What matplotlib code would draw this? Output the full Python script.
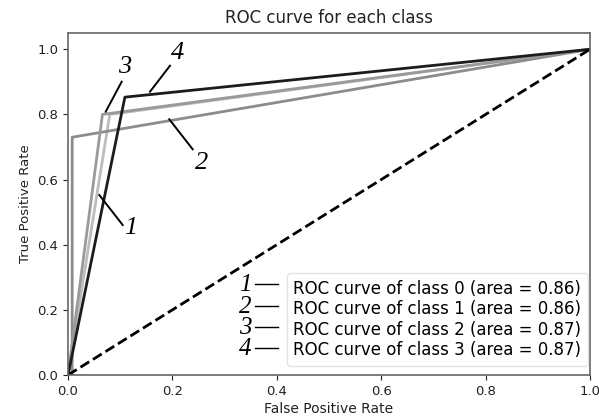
import matplotlib
matplotlib.use("Agg")
import matplotlib.pyplot as plt
from matplotlib.lines import Line2D

# data
classes = [0, 1, 2, 3]
areas = [0.86, 0.86, 0.87, 0.87]
fpr_c0 = [0.0, 0.080, 1.0]
tpr_c0 = [0.0, 0.80, 1.0]
fpr_c1 = [0.0, 0.008, 0.008, 1.0]
tpr_c1 = [0.0, 0.0, 0.73, 1.0]
fpr_c2 = [0.0, 0.066, 1.0]
tpr_c2 = [0.0, 0.80, 1.0]
fpr_c3 = [0.0, 0.109, 1.0]
tpr_c3 = [0.0, 0.853, 1.0]
fprs = [fpr_c0, fpr_c1, fpr_c2, fpr_c3]
tprs = [tpr_c0, tpr_c1, tpr_c2, tpr_c3]
colors = ["#bdbdbd", "#8c8c8c", "#9a9a9a", "#1c1c1c"]
numbers = ["1", "2", "3", "4"]

fig = plt.figure(figsize=(5.99, 4.16), dpi=100)
ax = fig.add_axes([68 / 599, 41 / 416, 522 / 599, 342 / 416])

for f, t, c, cls, a in zip(fprs, tprs, colors, classes, areas):
    ax.plot(f, t, color=c, lw=2, label=f"ROC curve of class {cls} (area = {a:.2f})")
ax.plot([0, 1], [0, 1], "k--", lw=2)

ax.set_xlim(0, 1.0)
ax.set_ylim(0, 1.05)
ax.set_xticks([0, 0.2, 0.4, 0.6, 0.8, 1.0])
ax.set_yticks([0, 0.2, 0.4, 0.6, 0.8, 1.0])
ax.tick_params(labelsize=9.5, colors="#222222")
ax.set_xlabel("False Positive Rate", fontsize=10, color="#222222", labelpad=3)
ax.set_ylabel("True Positive Rate", fontsize=9.5, color="#222222")
ax.set_title("ROC curve for each class", fontsize=12, color="#222222", pad=7)
for s in ax.spines.values():
    s.set_color("#666666")
    s.set_linewidth(1.2)


def px2ax(px, py):
    return (px - 68) / 522.0, (375 - py) / 342.0


leg = ax.legend(loc="lower right", fontsize=12, handlelength=0, handletextpad=0,
                frameon=True, borderaxespad=0, labelspacing=0.15,
                bbox_to_anchor=px2ax(588, 366), fancybox=True)
for h in leg.legend_handles:
    h.set_visible(False)
leg.get_frame().set_edgecolor("#dddddd")

# curve labels with leader lines (pixel positions in the axes)
serif = ["Liberation Serif", "DejaVu Serif"]
annos = [
    ("1", (130.7, 228.3), (99.3, 195), (122.7, 225)),
    ("2", (201.7, 163.3), (169.3, 119.3), (192.7, 149.3)),
    ("3", (125, 67), (121.7, 81.7), (105.7, 111.7)),
    ("4", (178, 53), (170, 65.7), (150, 91.7)),
]
for n, tp, p1, p2 in annos:
    x, y = px2ax(*tp)
    ax.text(x, y, n, fontsize=19, family=serif, style="italic",
            ha="center", va="center", color="black", transform=ax.transAxes)
    a1 = px2ax(*p1)
    a2 = px2ax(*p2)
    ax.add_line(Line2D([a1[0], a2[0]], [a1[1], a2[1]], color="black", lw=1.4,
                       transform=ax.transAxes))

# legend numbering
rows = [285, 306.7, 328.3, 349.3]
for n, py in zip(numbers, rows):
    x, y = px2ax(245, py)
    ax.text(x, y, n, fontsize=18, family=serif, style="italic",
            ha="center", va="center", color="black", transform=ax.transAxes)
    x1, y1 = px2ax(255, py - 1)
    x2, _ = px2ax(278, py - 1)
    ax.add_line(Line2D([x1, x2], [y1, y1], color="black", lw=1.0,
                       transform=ax.transAxes))

fig.savefig("out.png", dpi=100)
